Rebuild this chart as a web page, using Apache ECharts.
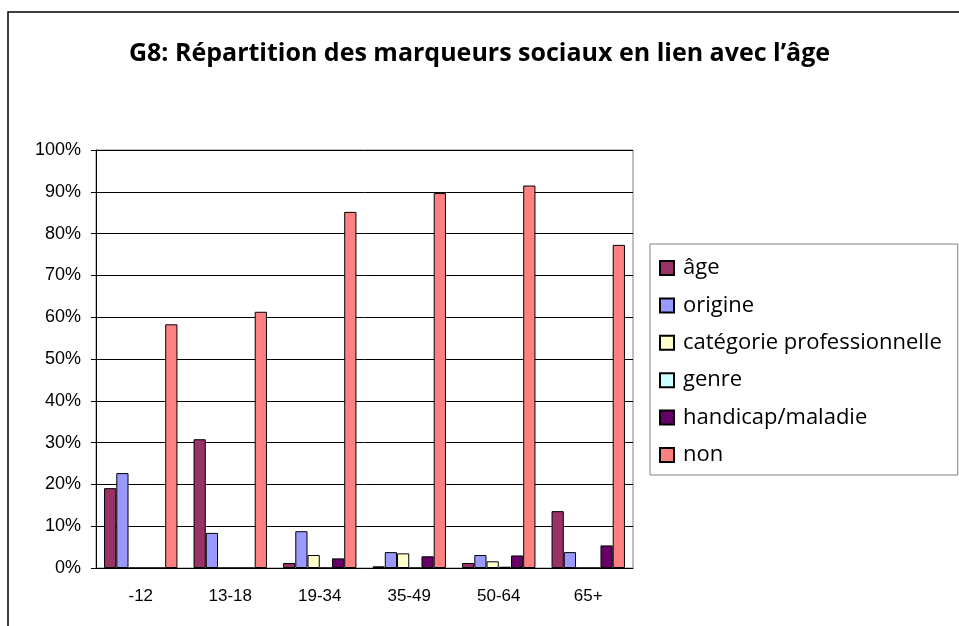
<!DOCTYPE html>
<html lang="fr">
<head>
    <meta charset="UTF-8">
    <title>G8</title>
    <script src="https://cdn.jsdelivr.net/npm/echarts@6/dist/echarts.min.js"></script>
    <style>
        html, body { margin: 0; padding: 0; background: #fff; }
        #chart1 { width: 959px; height: 626px; }
    </style>
</head>
<body>
<div id="chart1"></div>
<script type="text/javascript">

    // tranches d'âge
    var categories = ['-12', '13-18', '19-34', '35-49', '50-64', '65+'];
    // valeurs en %
    var age = [19.1, 30.8, 1.2, 0.4, 1.2, 13.6];
    var origine = [22.7, 8.4, 8.8, 3.8, 3.1, 3.8];
    var categorie = [0, 0, 3.1, 3.5, 1.6, 0];
    var genre = [0, 0, 0, 0, 0.3, 0];
    var handicap = [0, 0, 2.3, 2.8, 3.0, 5.4];
    var non = [58.3, 61.3, 85.2, 89.7, 91.5, 77.3];
    var yTicks = [0, 10, 20, 30, 40, 50, 60, 70, 80, 90, 100];

    var seriesNames = ['âge', 'origine', 'catégorie professionnelle', 'genre', 'handicap/maladie', 'non'];
    var seriesData = [age, origine, categorie, genre, handicap, non];
    var colors = ['#993366', '#9999FF', '#FFFFCC', '#CCFFFF', '#660066', '#FF8080'];

    var series = [];
    for (var i = 0; i < seriesNames.length; i++) {
        series.push({
            name: seriesNames[i],
            type: 'bar',
            data: seriesData[i],
            barGap: '0%',
            barCategoryGap: '18%',
            itemStyle: {color: colors[i], borderColor: '#000', borderWidth: 1}
        });
    }

    var myChart1 = echarts.init(document.getElementById('chart1'));
    myChart1.setOption({
        animation: false,
        title: {
            text: 'G8: Répartition des marqueurs sociaux en lien avec l’âge',
            left: 'center',
            top: 36,
            textStyle: {fontFamily: 'Open Sans', fontWeight: 'bold', fontSize: 25, color: '#000'}
        },
        legend: {
            orient: 'vertical',
            left: 650,
            top: 244,
            padding: [12, 16, 8, 9],
            itemGap: 13.4,
            itemWidth: 14,
            itemHeight: 14,
            icon: 'rect',
            borderColor: '#808080',
            borderWidth: 1,
            backgroundColor: '#fff',
            data: seriesNames,
            textStyle: {fontFamily: 'Open Sans', fontSize: 22, color: '#000', lineHeight: 24, padding: [0, 0, 0, 4]}
        },
        graphic: [{
            type: 'polyline',
            shape: {points: [[8, 626], [8, 12], [959, 12]]},
            style: {stroke: '#000', lineWidth: 1.5, fill: null}
        }],
        grid: {
            left: 96, top: 150, width: 537, height: 418,
            show: true, borderColor: '#808080', borderWidth: 1
        },
        xAxis: {
            type: 'category',
            data: categories,
            axisLine: {lineStyle: {color: '#000'}},
            axisTick: {length: 5, lineStyle: {color: '#000'}},
            axisLabel: {margin: 20, fontFamily: 'Liberation Sans', fontSize: 17, color: '#000'}
        },
        yAxis: {
            type: 'value',
            min: yTicks[0],
            max: yTicks[yTicks.length - 1],
            interval: 10,
            axisLine: {show: true, lineStyle: {color: '#000'}},
            axisTick: {show: true, length: 5, lineStyle: {color: '#000'}},
            axisLabel: {margin: 15, fontFamily: 'Liberation Sans', fontSize: 18, color: '#000', formatter: '{value}%'},
            splitLine: {lineStyle: {color: '#000'}}
        },
        series: series
    });

</script>
</body>
</html>
